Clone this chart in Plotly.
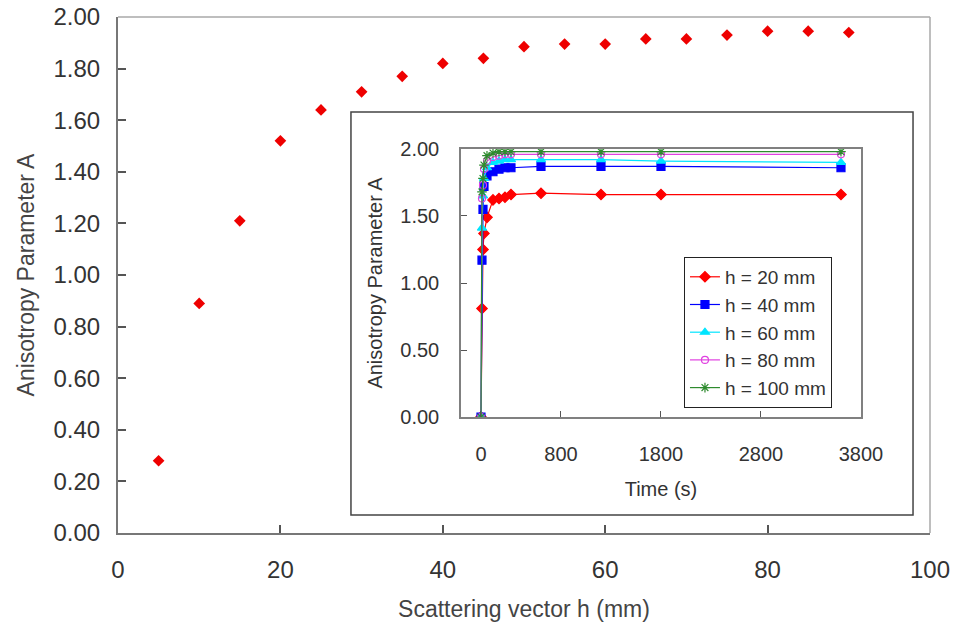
import plotly.graph_objects as go

# Main chart data
h_vals = [5, 10, 15, 20, 25, 30, 35, 40, 45, 50, 55, 60, 65, 70, 75, 80, 85, 90]
A_vals = [0.28, 0.89, 1.21, 1.52, 1.64, 1.71, 1.77, 1.82, 1.84, 1.885, 1.895, 1.895,
          1.915, 1.915, 1.93, 1.945, 1.945, 1.94]

# Inset data
times = [0, 10, 20, 30, 60, 120, 180, 240, 300, 600, 1200, 1800, 3600]
a_h20 = [0, 0.81, 1.25, 1.37, 1.49, 1.62, 1.63, 1.64, 1.66, 1.67, 1.66, 1.66, 1.66]
a_h40 = [0, 1.17, 1.55, 1.72, 1.80, 1.83, 1.85, 1.86, 1.86, 1.87, 1.87, 1.87, 1.86]
a_h60 = [0, 1.41, 1.65, 1.78, 1.86, 1.90, 1.91, 1.92, 1.92, 1.92, 1.92, 1.91, 1.90]
a_h80 = [0, 1.63, 1.73, 1.85, 1.91, 1.94, 1.95, 1.96, 1.96, 1.96, 1.96, 1.96, 1.96]
a_h100 = [0, 1.68, 1.78, 1.88, 1.95, 1.97, 1.98, 1.98, 1.98, 1.98, 1.98, 1.98, 1.98]

series_names = ["h = 20 mm", "h = 40 mm", "h = 60 mm", "h = 80 mm", "h = 100 mm"]
series_vals = [a_h20, a_h40, a_h60, a_h80, a_h100]
series_colors = ["#FF0000", "#0000FF", "#00E5FF", "#E040E0", "#2E8B2E"]
series_symbols = ["diamond", "square", "triangle-up", "circle-open", "asterisk-open"]
series_sizes = [8, 8, 8, 7, 8]

FONT = "Liberation Sans, Arial, Helvetica, sans-serif"

fig = go.Figure()

fig.add_trace(go.Scatter(
    x=h_vals, y=A_vals, mode="markers",
    marker=dict(symbol="diamond", size=9, color="#EE0000"),
    showlegend=False, xaxis="x", yaxis="y",
))

for name, vals, col, sym, sz in zip(series_names, series_vals, series_colors,
                                    series_symbols, series_sizes):
    fig.add_trace(go.Scatter(
        x=times, y=vals, mode="lines+markers", name=name,
        line=dict(color=col, width=1.2),
        marker=dict(symbol=sym, size=sz, color=col,
                    line=dict(color=col, width=1.2)),
        xaxis="x2", yaxis="y2",
    ))

fig.update_layout(
    width=956, height=631,
    margin=dict(l=118, r=26, t=17, b=98, autoexpand=False),
    paper_bgcolor="white", plot_bgcolor="white",
    font=dict(family=FONT, color="#333333"),
    xaxis=dict(
        domain=[0, 1], range=[0, 100], tickvals=[0, 20, 40, 60, 80, 100],
        ticks="inside", ticklen=8, tickcolor="#555555", tickwidth=1.5,
        showline=True, linecolor="#777777", linewidth=2,
        showgrid=False, zeroline=False, automargin=False, ticklabeloverflow="allow",
        tickfont=dict(size=24, color="#333333"), ticklabelstandoff=14,
        title=dict(text="Scattering vector h (mm)", font=dict(size=23, color="#444444"),
                   standoff=19),
    ),
    yaxis=dict(
        domain=[0, 1], range=[0, 2], dtick=0.2, tickformat=".2f",
        ticks="inside", ticklen=8, tickcolor="#555555", tickwidth=1.5,
        showline=True, linecolor="#777777", linewidth=2,
        showgrid=False, zeroline=False, automargin=False, ticklabeloverflow="allow",
        tickfont=dict(size=24, color="#333333"), ticklabelstandoff=11,
        title=dict(text="Anisotropy Parameter A", font=dict(size=23, color="#444444"),
                   standoff=12),
    ),
    xaxis2=dict(
        domain=[0.4224, 0.9150], anchor="y2", range=[-200, 3800],
        tickvals=[0, 800, 1800, 2800, 3800],
        ticks="inside", ticklen=6, tickcolor="#555555",
        showline=True, mirror=True, linecolor="#808080", linewidth=1.5,
        showgrid=False, zeroline=False, automargin=False,
        tickfont=dict(size=20, color="#333333"), ticklabelstandoff=18,
        title=dict(text="Time (s)", font=dict(size=20, color="#333333"), standoff=18),
    ),
    yaxis2=dict(
        domain=[0.2248, 0.7442], anchor="x2", range=[0, 2], dtick=0.5, tickformat=".2f",
        ticks="inside", ticklen=6, tickcolor="#555555",
        showline=True, mirror=True, linecolor="#808080", linewidth=1.5,
        showgrid=False, zeroline=False, automargin=False,
        tickfont=dict(size=20, color="#333333"), ticklabelstandoff=16,
        title=dict(text="Anisotropy Parameter A", font=dict(size=20, color="#333333"),
                   standoff=12),
    ),
    legend=dict(
        x=0.697, y=0.535, xanchor="left", yanchor="top",
        bgcolor="white", bordercolor="#222222", borderwidth=1,
        font=dict(size=19, color="#333333"), tracegroupgap=0,
        itemwidth=30,
    ),
    shapes=[
        # top and right border of main plot area
        dict(type="line", xref="paper", yref="paper", x0=0, x1=1, y0=1, y1=1,
             line=dict(color="#A8A8A8", width=1.5)),
        dict(type="line", xref="paper", yref="paper", x0=1, x1=1, y0=0, y1=1,
             line=dict(color="#A8A8A8", width=1.5)),
        # inset outer frame
        dict(type="rect", xref="paper", yref="paper", x0=0.2869, x1=0.9791,
             y0=0.0349, y1=0.8159, line=dict(color="#444444", width=1.5),
             fillcolor="white", layer="below"),
    ],
)

fig.write_html("out.html", config={"displayModeBar": False},
               post_script="document.body.style.margin='0px';")
